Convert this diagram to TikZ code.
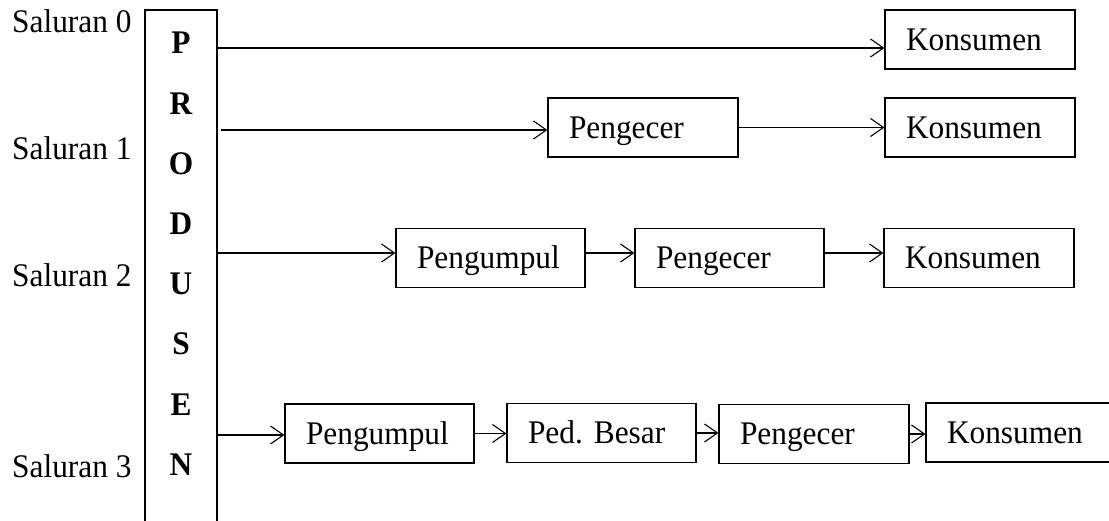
\documentclass[tikz,border=0pt]{standalone}
\usepackage{fontspec}
\setmainfont{Liberation Serif}[FakeStretch=0.95]
\usetikzlibrary{arrows.meta,calc}
\begin{document}
\begin{tikzpicture}[x=1pt,y=-1pt,
  every node/.style={font=\fontsize{33}{38}\selectfont},
  box/.style={draw, line width=1.1pt, rectangle, inner xsep=21pt, inner ysep=0pt,
    text height=21.8pt, text depth=0pt, align=left, minimum height=59pt, text width=#1},
  lbl/.style={anchor=base west, inner sep=0pt},
  letter/.style={anchor=base, inner sep=0pt, font=\fontsize{33}{38}\selectfont\bfseries},
  conn/.style={line width=1.1pt, -{Straight Barb[length=13pt,width=18pt]}},
]
\useasboundingbox (0,0) rectangle (1109,521);

% producer column (open at the bottom, runs past the page edge)
\node[draw, line width=1.1pt, minimum width=72pt, minimum height=535pt, inner sep=0pt] (prod) at (181,277.5) {};
\foreach \ch [count=\i from 0] in {P,R,O,D,U,S,E,N}{
  \node[letter] (l\i) at (181,{54+60.2*\i}) {\ch};
}

% channel labels
\node[lbl] (sal0) at (12,33) {Saluran 0};
\node[lbl] (sal1) at (12,160) {Saluran 1};
\node[lbl] (sal2) at (12,287) {Saluran 2};
\node[lbl] (sal3) at (12,477) {Saluran 3};

% boxes
\node[box=148pt] (k0) at (980,39.5) {Konsumen};

\node[box=148pt] (p1) at (643,127.5) {Pengecer};
\node[box=148pt] (k1) at (980,127.5) {Konsumen};

\node[box=147pt] (g2) at (490.5,258) {Pengumpul};
\node[box=147pt] (p2) at (729.5,258) {Pengecer};
\node[box=148pt] (k2) at (979,258) {Konsumen};

\node[box=147pt] (g3) at (379.5,433.5) {Pengumpul};
\node[box=147pt] (b3) at (601.5,433) {Ped.\ Besar};
\node[box=148pt] (p3) at (814,434) {Pengecer};
\node[box=147pt] (k3) at (1020.5,432.5) {Konsumen};

% start points on the producer column
\coordinate (s0) at (prod.east |- 0,48);
\coordinate (s1) at (221,130);
\coordinate (s2) at (prod.east |- 0,253);
\coordinate (s3) at (prod.east |- 0,435);

% connectors
\draw[conn] (s0) -- (s0 -| k0.west);

\draw[conn] (s1) -- (s1 -| p1.west);
\draw[conn] (p1.east) -- (p1.east -| k1.west);

\draw[conn] (s2) -- (s2 -| g2.west);
\draw[conn] (g2.east |- s2) -- (s2 -| p2.west);
\draw[conn] (p2.east |- s2) -- (s2 -| k2.west);

\draw[conn] (s3) -- (s3 -| g3.west);
\draw[conn] (g3.east) -- (g3.east -| b3.west);
\draw[conn] (b3.east) -- (b3.east -| p3.west);
\draw[conn] (p3.east) -- (p3.east -| k3.west);
\end{tikzpicture}
\end{document}
